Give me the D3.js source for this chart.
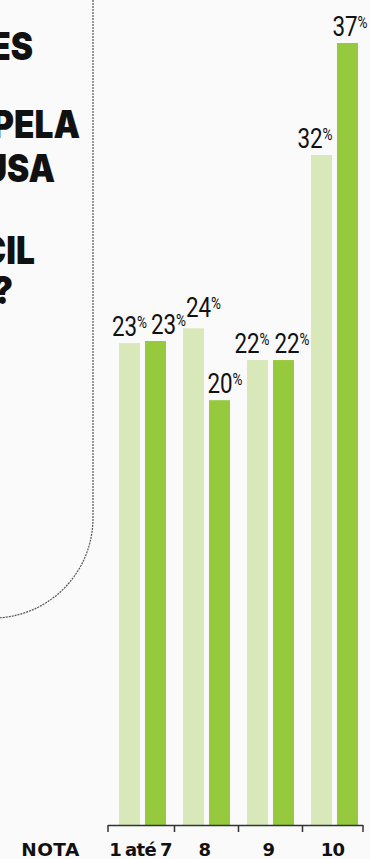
<!DOCTYPE html>
<html><head><meta charset="utf-8">
<script src="https://cdn.jsdelivr.net/npm/d3@7"></script>
<style>html,body{margin:0;padding:0;background:#fafafa;overflow:hidden}</style>
</head><body>
<script>
// ---- data ----
const categories = ["1 até 7", "8", "9", "10"];
const seriesKeys = ["light", "dark"];
const lightValues = [22.8, 23.5, 22.0, 31.7];
const darkValues = [22.9, 20.1, 22.0, 37.0];
const axisTitle = "NOTA";
const headingLines = ["ES", "PELA", "USA", "CIL", "?"];

// ---- layout / style ----
const W = 370, H = 859;
const baseY = 825;
const colors = {light: "#d9e8b9", dark: "#97c93e"};
const labelDx = {light: [0, 10, -5.5, -6.5], dark: [13, 5.5, 8.5, 2.5]};
const labelDy = {light: [0, -4, 0, 0], dark: [0, 0, 0, 0]};
const headingY = [60, 138, 182, 264, 304];
const headingRight = [33, 80, 55, 35, 13];

const svg = d3.select("body").append("svg")
  .attr("width", W).attr("height", H)
  .style("display", "block").style("background", "#fafafa");

// dotted border of left panel
svg.append("path")
  .attr("d", "M93,0 V518 A100,100 0 0 1 -7,618")
  .attr("fill", "none").attr("stroke", "#555")
  .attr("stroke-width", 1.2).attr("stroke-dasharray", "2,1");

// heading fragments (the rest of the heading lies beyond the left edge)
svg.append("g").selectAll("text").data(headingLines).join("text")
  .attr("transform", (d, i) => `translate(${headingRight[i]},${headingY[i]}) scale(0.88,1)`)
  .attr("text-anchor", "end")
  .style("font-family", "Inter, 'DejaVu Sans', sans-serif")
  .style("font-weight", 900).style("font-size", "38px").attr("fill", "#111")
  .text(d => d);

// scales
const x0 = d3.scaleBand().domain(categories).range([110.5, 366.5])
  .paddingInner(0.266).paddingOuter(0.133);
const x1 = d3.scaleBand().domain(seriesKeys).range([0, x0.bandwidth()]).paddingInner(0.192);
const y = d3.scaleLinear().domain([0, 37]).range([baseY, 43]);

const rows = categories.map((c, i) => ({
  cat: c, i,
  vals: [{key: "light", v: lightValues[i]}, {key: "dark", v: darkValues[i]}]
}));

const groups = svg.append("g").selectAll("g").data(rows).join("g")
  .attr("transform", d => `translate(${x0(d.cat)},0)`);

groups.selectAll("rect").data(d => d.vals).join("rect")
  .attr("x", d => x1(d.key)).attr("width", x1.bandwidth())
  .attr("y", d => y(d.v)).attr("height", d => baseY - y(d.v))
  .attr("fill", d => colors[d.key]);

// value labels
rows.forEach(r => {
  r.vals.forEach(s => {
    const cx = x0(r.cat) + x1(s.key) + x1.bandwidth() / 2 + labelDx[s.key][r.i];
    const ty = y(s.v) - 7 + labelDy[s.key][r.i];
    const t = svg.append("text")
      .attr("transform", `translate(${cx},${ty}) scale(0.8,1)`)
      .attr("text-anchor", "middle")
      .style("font-family", "Roboto, 'Open Sans', sans-serif")
      .attr("fill", "#111");
    t.append("tspan").style("font-size", "28px").text(Math.round(s.v));
    t.append("tspan").style("font-size", "17px").attr("dy", -8).text("%");
  });
});

// axis
const step = x0.step(), gap = step * x0.paddingInner();
const bounds = categories.map(c => x0(c) - gap / 2);
bounds.push(x0(categories[categories.length - 1]) + x0.bandwidth() + gap / 2);
bounds[0] = 108; bounds[bounds.length - 1] = 363;
const ax = svg.append("g").attr("stroke", "#333").attr("stroke-width", 1.5);
ax.append("line").attr("x1", bounds[0]).attr("x2", bounds[bounds.length - 1])
  .attr("y1", baseY + 0.5).attr("y2", baseY + 0.5);
ax.selectAll(".tk").data(bounds).join("line").attr("class", "tk")
  .attr("x1", d => d).attr("x2", d => d).attr("y1", baseY).attr("y2", baseY + 7);

const labStyle = sel => sel
  .style("font-family", "'DejaVu Sans', sans-serif")
  .style("font-weight", 700).style("font-size", "18px").attr("fill", "#111")
  .style("letter-spacing", "-0.7px").style("word-spacing", "-1.5px")
  .attr("text-anchor", "middle");

svg.append("g").selectAll("text").data(categories).join("text")
  .attr("x", c => x0(c) + x0.bandwidth() / 2 - 2).attr("y", 856)
  .call(labStyle).text(c => c);

svg.append("text").attr("x", 50.5).attr("y", 856).call(labStyle)
  .style("font-size", "18.5px").style("letter-spacing", "0.4px").text(axisTitle);
</script>
</body></html>
